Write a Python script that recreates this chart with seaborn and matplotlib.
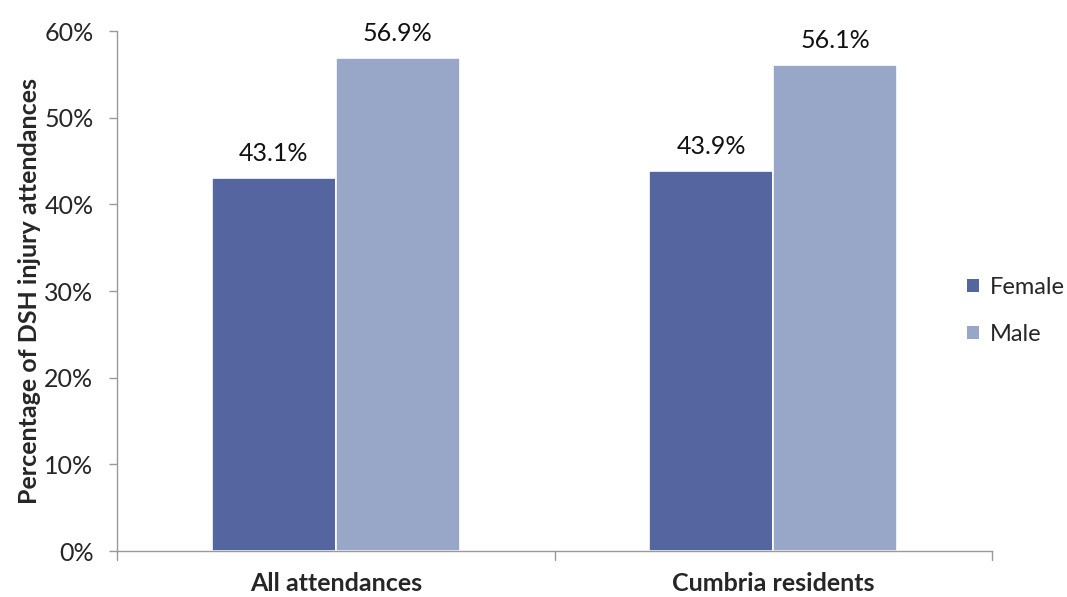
import matplotlib
matplotlib.use("Agg")
import matplotlib.pyplot as plt
import seaborn as sns
import pandas as pd
from matplotlib.ticker import FuncFormatter, MultipleLocator

categories = ["All attendances", "Cumbria residents"]
female = [43.1, 43.9]
male = [56.9, 56.1]
series = ["Female", "Male"]
colors = ["#55659F", "#98A6C8"]

df = pd.DataFrame({
    "cat": categories * 2,
    "sex": ["Female"] * 2 + ["Male"] * 2,
    "val": female + male,
})

sns.set_style("white")
plt.rcParams['font.family'] = ['Lato', 'DejaVu Sans']

fig = plt.figure(figsize=(10.67, 5.97), dpi=100)
ax = fig.add_axes([0.1097, 0.077, 0.82, 0.871])

sns.barplot(data=df, x="cat", y="val", hue="sex", hue_order=series,
            palette=colors, width=0.566, ax=ax, saturation=1,
            edgecolor="white", linewidth=1.2, legend=True)

ax.set_xlim(-0.5, 1.5)
ax.set_ylim(0, 60)
ax.yaxis.set_major_locator(MultipleLocator(10))
ax.yaxis.set_major_formatter(FuncFormatter(lambda v, p: f"{v:.0f}%"))

for cont in ax.containers:
    ax.bar_label(cont, labels=[f"{b.get_height():.1f}%" for b in cont],
                 padding=9, fontsize=18, color="#111111")

ax.set_xlabel("")
ax.set_ylabel("Percentage of DSH injury attendances", fontsize=18,
              fontweight="bold", labelpad=2)
ax.tick_params(axis="y", labelsize=18, length=6, direction="out",
               left=True, color="#999999", width=1, pad=11)
ax.set_xticks([0, 1])
ax.set_xticklabels(categories, fontsize=18, fontweight="bold")
ax.tick_params(axis="x", length=0, pad=15)
for x in [-0.5, 0.5, 1.5]:
    ax.plot([x, x], [0, -1.0], color="#999999", lw=1, clip_on=False,
            transform=ax.transData)

for s in ["top", "right"]:
    ax.spines[s].set_visible(False)
for s in ["left", "bottom"]:
    ax.spines[s].set_color("#999999")
    ax.spines[s].set_linewidth(1)

leg = ax.legend(loc="center left", bbox_to_anchor=(946 / 1067, 1 - 311 / 597),
                bbox_transform=fig.transFigure,
                frameon=False, fontsize=17, handlelength=0.5,
                handleheight=0.5, labelspacing=1.1, handletextpad=0.45)
for h in leg.legend_handles:
    h.set_edgecolor("none")

fig.savefig("out.png", dpi=100)
